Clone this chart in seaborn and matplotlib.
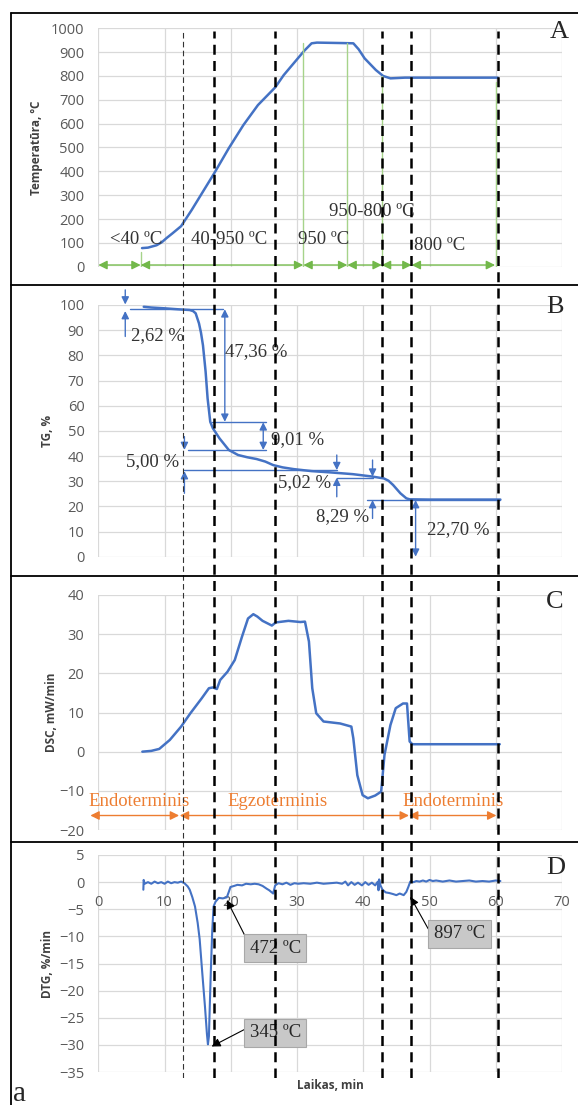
import matplotlib
matplotlib.use("Agg")
import matplotlib.pyplot as plt
import seaborn as sns
from matplotlib.lines import Line2D

# ---- data ----
time_temp = [6.6, 7.5, 8.8, 9.6, 10.3, 11.2, 12.5, 14.1, 15.8, 17.5, 19.7, 21.9, 24.1, 26.7,
             28.0, 29.7, 31.1, 32.2, 33.0, 35.0, 37.0, 38.5, 39.3, 40.2, 41.9, 43.0, 44.1,
             46.3, 50.0, 55.0, 60.3]
temp = [78, 80, 90, 103, 120, 140, 170, 238, 315, 392, 497, 594, 678, 752,
        804, 860, 906, 937, 940, 939, 938, 937, 912, 874, 825, 800, 790,
        793, 793, 793, 793]

time_tg = [6.86, 8.0, 9.9, 12.0, 13.8, 14.3, 14.7, 15.2, 15.5, 15.8, 16.2, 16.5, 16.9, 17.3,
           18.3, 19.7, 21.1, 22.5, 23.9, 25.2, 26.4, 27.8, 29.5, 32.2, 35.0, 38.4, 41.2,
           43.1, 43.8, 44.5, 45.6, 46.5, 47.0, 50.0, 55.0, 60.7]
tg = [99.3, 99.0, 98.7, 98.3, 98.0, 97.6, 96.7, 92.7, 89.0, 84.0, 73.5, 62.9, 53.6, 51.0,
      47.0, 42.4, 40.4, 39.5, 38.8, 37.8, 36.4, 35.5, 34.8, 34.0, 33.5, 32.8, 31.9,
      31.1, 30.2, 28.5, 25.2, 23.2, 22.8, 22.7, 22.7, 22.7]

time_dsc = [6.65, 8.0, 9.2, 10.8, 12.5, 13.9, 15.6, 16.7, 17.3, 17.9, 18.4, 19.5, 20.6, 21.7,
            22.6, 23.4, 24.0, 24.8, 26.2, 26.8, 28.7, 30.5, 31.2, 31.8, 32.3, 32.9, 34.0,
            36.5, 38.2, 38.5, 39.1, 39.9, 40.7, 41.8, 42.7, 43.2, 44.1, 44.9, 46.0, 46.6,
            47.0, 47.4, 50.0, 55.0, 60.6]
dsc = [0.0, 0.2, 0.7, 3.0, 6.4, 9.8, 13.6, 16.2, 16.4, 16.0, 18.3, 20.4, 23.4, 29.4,
       34.0, 35.1, 34.5, 33.4, 32.2, 33.0, 33.4, 33.1, 33.2, 28.1, 16.2, 9.8, 7.7,
       7.2, 6.4, 3.4, -6.0, -11.1, -11.9, -11.2, -10.2, -0.85, 6.8, 11.1, 12.3, 12.3,
       2.6, 1.9, 1.9, 1.9, 1.9]

time_dtg = [6.8, 6.85, 7.0, 7.5, 8.0, 8.5, 9.0, 9.5, 10.0, 10.5, 11.0, 11.5, 12.0, 12.5,
            13.0, 13.5, 13.8, 14.2, 14.6, 15.0, 15.3, 15.7, 16.1, 16.4, 16.55, 16.7, 16.85,
            17.0, 17.2, 17.4, 17.7, 18.2, 18.8, 19.4, 19.7, 19.95, 20.5, 21.0, 21.7, 22.3,
            23.0, 23.6, 24.2, 24.8, 25.4, 25.8, 26.4, 26.7, 27.2, 27.8, 28.4, 29.0, 29.6,
            30.2, 31.0, 32.0, 33.0, 34.0, 35.0, 36.0, 36.8, 37.3, 37.7, 38.2, 38.7, 39.2,
            39.8, 40.3, 40.8, 41.3, 41.8, 42.2, 42.3, 42.4, 42.6, 42.9, 43.4, 43.9, 44.5,
            45.0, 45.5, 46.1, 46.5, 46.8, 47.1, 47.6, 48.0, 48.5, 49.0, 49.5, 50.0, 50.5,
            51.0, 52.0, 53.0, 54.0, 55.0, 56.0, 57.0, 58.0, 59.0, 60.0, 60.7]
dtg = [-1.4, 0.4, -0.3, 0.0, -0.3, 0.1, -0.2, 0.0, -0.3, 0.1, -0.2, 0.0, -0.1, 0.1,
       -0.2, -0.8, -1.4, -2.8, -4.5, -7.5, -10.5, -16.8, -22.9, -28.0, -29.9, -28.4, -22.0,
       -16.0, -9.0, -4.5, -3.6, -2.9, -3.0, -2.8, -1.8, -0.9, -0.7, -0.5, -0.6, -0.3,
       -0.4, -0.3, -0.4, -0.7, -1.2, -1.5, -2.1, -0.6, -0.2, -0.4, -0.1, -0.5, -0.2,
       -0.3, -0.2, -0.3, -0.1, -0.3, -0.2, -0.1, -0.3, 0.1, -0.6, 0.0, -0.5, -0.1,
       -0.6, 0.0, -0.5, -0.1, -0.6, 0.1, -1.5, 0.5, -0.6, -1.4, -1.9, -2.0, -2.2,
       -2.4, -2.1, -2.4, -1.8, -0.9, 0.1, 0.0, 0.2, 0.1, 0.3, 0.1, 0.4, 0.2,
       0.3, 0.1, 0.3, 0.1, 0.2, 0.3, 0.1, 0.2, 0.1, 0.3, 0.2]

# stage boundaries (min)
stage_lines = [12.76, 17.47, 26.74, 42.82, 47.26, 60.3]
green_marks = [(6.4, 63), (30.95, 937), (37.6, 937), (42.8, 800), (60.0, 776)]
green_spans = [(0, 6.4), (6.4, 30.95), (30.95, 37.6), (37.6, 42.8), (42.8, 47.3), (47.3, 59.9)]
temp_labels = [("<40 ºC", 5.7, 112), ("40-950 ºC", 19.8, 115), ("950 ºC", 34.0, 115),
               ("950-800 ºC", 41.3, 231), ("800 ºC", 51.6, 87)]
tg_labels = [("2,62 %", 8.9, 88), ("47,36 %", 23.8, 81.5), ("9,01 %", 30.1, 46.4),
             ("5,00 %", 8.2, 37.7), ("5,02 %", 31.2, 29.5), ("8,29 %", 36.8, 15.9),
             ("22,70 %", 54.4, 10.6)]
dsc_spans = [(-1.2, 12.2), (12.3, 46.9), (46.9, 60.1)]
dsc_labels = [("Endoterminis", 6.1), ("Egzoterminis", 27.1), ("Endoterminis", 53.6)]
peak_boxes = [("472 ºC", 26.7, -12.2, 22.1, -9.8, 19.4, -3.3),
              ("345 ºC", 26.7, -27.8, 22.0, -27.2, 17.1, -30.3),
              ("897 ºC", 54.5, -9.5, 49.8, -8.6, 47.1, -2.7)]

BLUE = "#4472C4"
GREEN = "#72b84a"
GREEN_LIGHT = "#a6d38a"
ORANGE = "#ED7D31"
GRID = "#d9d9d9"
TICK = "#595959"
SERIF = "Liberation Serif"
SANS = "Open Sans"
TXT = "#333333"

sns.set_theme(style="whitegrid")
plt.rcParams["font.family"] = [SANS, "DejaVu Sans"]

W, H = 578, 1105
fig = plt.figure(figsize=(W / 100, H / 100), dpi=100)

x0 = 98.3
x1 = 562.0
left = x0 / W
width = (x1 - x0) / W


def add_axes(top_px, bottom_px):
    return fig.add_axes([left, 1 - bottom_px / H, width, (bottom_px - top_px) / H])


def style(ax, ylim, yticks, ylabel, label_x):
    ax.set_xlim(0, 70)
    ax.set_ylim(*ylim)
    ax.set_xticks(range(0, 71, 10))
    ax.set_yticks(yticks)
    ax.set_facecolor("none")
    ax.grid(True, color=GRID, lw=0.9)
    for s in ax.spines.values():
        s.set_visible(False)
    ax.tick_params(length=0, pad=10, labelsize=10.5, labelcolor=TICK)
    ax.set_xlabel("")
    ax.set_ylabel(ylabel, fontsize=8.5, fontweight="bold", color="#404040")
    ax.yaxis.set_label_coords(label_x, 0.5)


def dim_arrow(ax, x, y_from, y_to, style="-|>"):
    ax.annotate("", xy=(x, y_to), xytext=(x, y_from), annotation_clip=False,
                arrowprops=dict(arrowstyle=style, color=BLUE, lw=1.0,
                                mutation_scale=11, shrinkA=0, shrinkB=0))


# ---- A: temperature ----
axA = add_axes(28.3, 266.7)
sns.lineplot(x=time_temp, y=temp, ax=axA, color=BLUE, lw=1.8, estimator=None, sort=False)
style(axA, (0, 1000), range(0, 1001, 100), "Temperatūra, ºC", -0.119)
axA.tick_params(labelbottom=False)
for gx, gy in green_marks:
    axA.plot([gx, gx], [0, gy], color=GREEN_LIGHT, lw=1.0, zorder=3)
for a, b in green_spans:
    axA.annotate("", xy=(b, 7), xytext=(a, 7), annotation_clip=False,
                 arrowprops=dict(arrowstyle="<|-|>", color=GREEN, lw=1.0,
                                 mutation_scale=13, shrinkA=0, shrinkB=0))
for t, tx, ty in temp_labels:
    axA.text(tx, ty, t, family=SERIF, fontsize=13.5, color=TXT, ha="center", va="center")

# ---- B: TG ----
axB = add_axes(305.0, 556.7)
sns.lineplot(x=time_tg, y=tg, ax=axB, color=BLUE, lw=1.8, estimator=None, sort=False)
style(axB, (0, 100), range(0, 101, 10), "TG, %", -0.0955)
axB.tick_params(labelbottom=False)
hlines = [(98.3, 4.8, 18.85), (53.4, 17.2, 25.3), (42.4, 13.55, 25.3),
          (34.4, 13.0, 36.1), (31.4, 36.0, 41.4), (22.5, 40.6, 60.7)]
for hy, ha_, hb in hlines:
    axB.plot([ha_, hb], [hy, hy], color=BLUE, lw=1.0)
dim_arrow(axB, 4.07, 106, 100.2)
dim_arrow(axB, 4.07, 87.5, 97.6)
dim_arrow(axB, 19.1, 98.3, 53.6, "<|-|>")
dim_arrow(axB, 24.9, 53.4, 42.4, "<|-|>")
dim_arrow(axB, 13.0, 47.7, 42.4)
dim_arrow(axB, 13.0, 25.2, 34.0)
dim_arrow(axB, 36.0, 40.4, 34.4)
dim_arrow(axB, 36.0, 23.8, 31.4)
dim_arrow(axB, 41.4, 38.4, 31.8)
dim_arrow(axB, 41.4, 15.2, 22.5)
dim_arrow(axB, 47.9, 22.5, 0.0, "<|-|>")
for t, tx, ty in tg_labels:
    axB.text(tx, ty, t, family=SERIF, fontsize=13.5, color=TXT, ha="center", va="center")

# ---- C: DSC ----
axC = add_axes(595.0, 830.0)
sns.lineplot(x=time_dsc, y=dsc, ax=axC, color=BLUE, lw=1.8, estimator=None, sort=False)
style(axC, (-20, 40), range(-20, 41, 10), "DSC, mW/min", -0.0878)
axC.tick_params(labelbottom=False)
for a, b in dsc_spans:
    axC.annotate("", xy=(b, -16.3), xytext=(a, -16.3), annotation_clip=False,
                 arrowprops=dict(arrowstyle="<|-|>", color=ORANGE, lw=1.0,
                                 mutation_scale=13, shrinkA=0, shrinkB=0))
for t, tx in dsc_labels:
    axC.text(tx, -12.6, t, family=SERIF, fontsize=13.5, color=ORANGE,
             ha="center", va="center", clip_on=False)

# ---- D: DTG ----
axD = add_axes(855.0, 1072.0)
sns.lineplot(x=time_dtg, y=dtg, ax=axD, color=BLUE, lw=1.5, estimator=None, sort=False)
style(axD, (-35, 5), range(-35, 6, 5), "DTG, %/min", -0.0955)
axD.spines["bottom"].set_position(("data", 0))
axD.tick_params(axis="x", pad=9)
axD.text(0.5, -0.06, "Laikas, min", transform=axD.transAxes, ha="center", va="center",
         fontsize=8.5, fontweight="bold", color="#404040")
for t, bx, by, sx, sy, px, py in peak_boxes:
    axD.annotate("", xy=(px, py), xytext=(sx, sy),
                 arrowprops=dict(arrowstyle="-|>", color="black", lw=0.8,
                                 mutation_scale=13, shrinkA=0, shrinkB=0))
    axD.text(bx, by, t, family=SERIF, fontsize=13.5, color="#262626", ha="center", va="center",
             bbox=dict(boxstyle="square,pad=0.3", fc="#c8c8c8", ec="#a8a8a8", lw=0.8))

# ---- stage boundaries across all panels ----
axO = add_axes(31.0, 1078.0)
axO.set_xlim(0, 70)
axO.set_ylim(0, 1)
axO.axis("off")
axO.vlines(stage_lines[0], 0, 1, color="#333333", lw=0.8, linestyles=(0, (5, 3)))
axO.vlines(stage_lines[1:], 0, 1, color="black", lw=1.8, linestyles=(0, (4, 2.5)))

# ---- frame, panel letters ----
fx = 11 / W
for yy in [13, 285, 576, 842]:
    fig.add_artist(Line2D([fx, 1], [1 - yy / H] * 2, color="black", lw=1.3,
                          transform=fig.transFigure))
fig.add_artist(Line2D([fx, fx], [0, 1 - 13 / H], color="black", lw=1.3,
                      transform=fig.transFigure))
for letter, lx, ly in [("A", 559, 32), ("B", 555, 307), ("C", 555, 602), ("D", 556, 868)]:
    fig.text(lx / W, 1 - ly / H, letter, family=SERIF, fontsize=19, ha="center", va="center")
fig.text(20 / W, 1 - 1101 / H, "a", family=SERIF, fontsize=21, ha="center", va="baseline")

fig.savefig("out.png", dpi=100)
